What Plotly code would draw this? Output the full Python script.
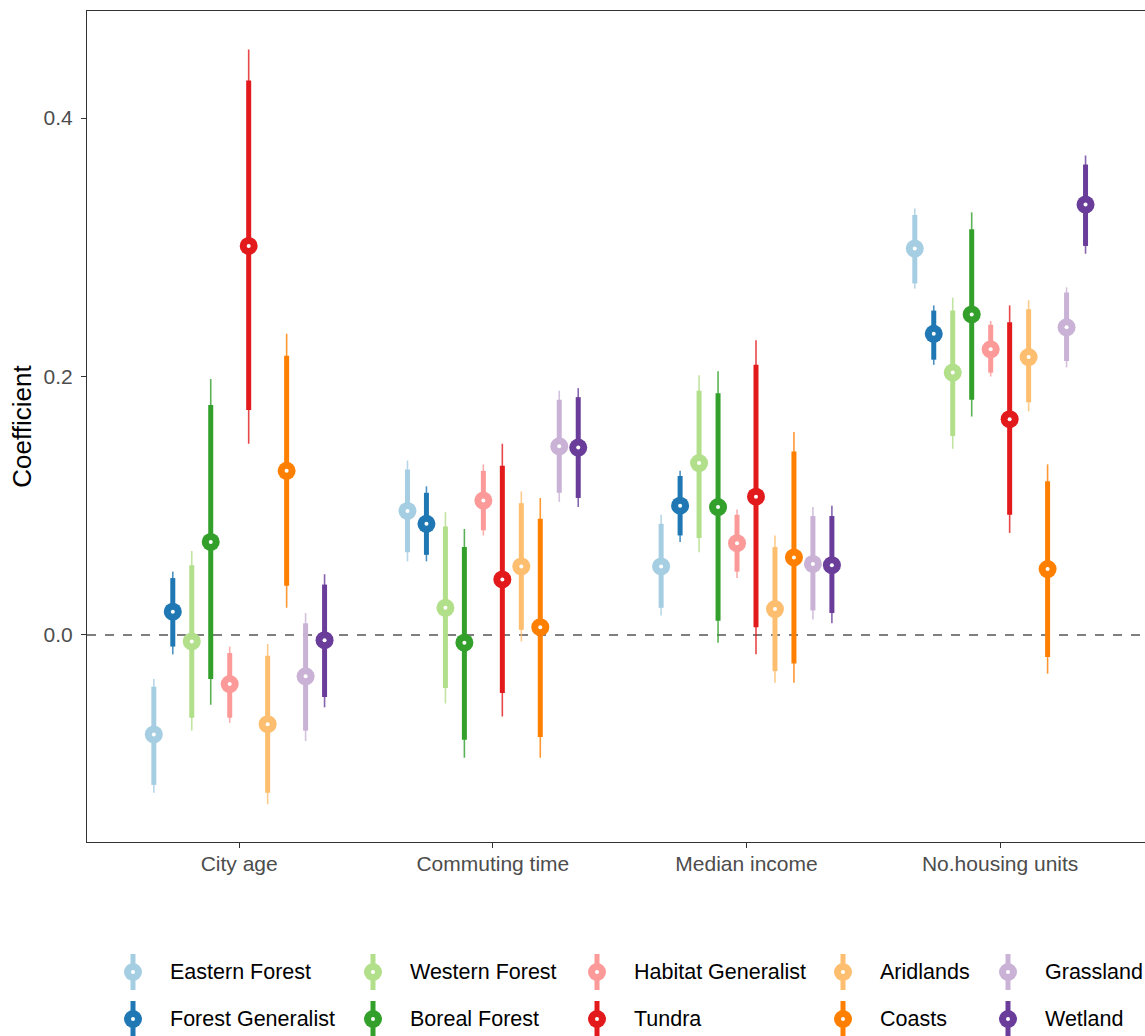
import plotly.graph_objects as go

# Predictors (x categories)
categories = ["City age", "Commuting time", "Median income", "No.housing units"]

# Habitat groups, in dodge / legend order
groups = ["Eastern Forest", "Forest Generalist", "Western Forest", "Boreal Forest",
          "Habitat Generalist", "Tundra", "Aridlands", "Coasts", "Grassland", "Wetland"]
colors = ["#A6CEE3", "#1F78B4", "#B2DF8A", "#33A02C", "#FB9A99",
          "#E31A1C", "#FDBF6F", "#FF7F00", "#CAB2D6", "#6A3D9A"]

# Point estimates: one list per group, values for each predictor
est = {
    "Eastern Forest":     [-0.077, 0.096, 0.053, 0.299],
    "Forest Generalist":  [0.018, 0.086, 0.100, 0.233],
    "Western Forest":     [-0.005, 0.021, 0.133, 0.203],
    "Boreal Forest":      [0.072, -0.006, 0.099, 0.248],
    "Habitat Generalist": [-0.038, 0.104, 0.071, 0.221],
    "Tundra":             [0.301, 0.043, 0.107, 0.167],
    "Aridlands":          [-0.069, 0.053, 0.020, 0.215],
    "Coasts":             [0.127, 0.006, 0.060, 0.051],
    "Grassland":          [-0.032, 0.146, 0.055, 0.238],
    "Wetland":            [-0.004, 0.145, 0.054, 0.333],
}
# Inner interval (thick segment): lower / upper
inner_lo = {
    "Eastern Forest":     [-0.116, 0.064, 0.021, 0.272],
    "Forest Generalist":  [-0.009, 0.062, 0.077, 0.213],
    "Western Forest":     [-0.064, -0.041, 0.075, 0.154],
    "Boreal Forest":      [-0.034, -0.081, 0.011, 0.182],
    "Habitat Generalist": [-0.064, 0.081, 0.049, 0.203],
    "Tundra":             [0.174, -0.045, 0.006, 0.093],
    "Aridlands":          [-0.122, 0.004, -0.028, 0.180],
    "Coasts":             [0.038, -0.079, -0.022, -0.017],
    "Grassland":          [-0.074, 0.110, 0.019, 0.212],
    "Wetland":            [-0.048, 0.106, 0.017, 0.301],
}
inner_hi = {
    "Eastern Forest":     [-0.040, 0.128, 0.086, 0.325],
    "Forest Generalist":  [0.044, 0.110, 0.123, 0.251],
    "Western Forest":     [0.054, 0.084, 0.189, 0.251],
    "Boreal Forest":      [0.178, 0.068, 0.187, 0.314],
    "Habitat Generalist": [-0.014, 0.127, 0.093, 0.240],
    "Tundra":             [0.429, 0.131, 0.209, 0.242],
    "Aridlands":          [-0.016, 0.102, 0.068, 0.252],
    "Coasts":             [0.216, 0.090, 0.142, 0.119],
    "Grassland":          [0.009, 0.182, 0.092, 0.265],
    "Wetland":            [0.039, 0.184, 0.092, 0.364],
}
# Outer interval (thin segment): lower / upper
outer_lo = {
    "Eastern Forest":     [-0.122, 0.057, 0.015, 0.268],
    "Forest Generalist":  [-0.015, 0.057, 0.072, 0.209],
    "Western Forest":     [-0.074, -0.053, 0.064, 0.144],
    "Boreal Forest":      [-0.054, -0.095, -0.006, 0.169],
    "Habitat Generalist": [-0.068, 0.077, 0.044, 0.200],
    "Tundra":             [0.148, -0.063, -0.015, 0.079],
    "Aridlands":          [-0.131, -0.005, -0.037, 0.173],
    "Coasts":             [0.021, -0.095, -0.037, -0.030],
    "Grassland":          [-0.082, 0.103, 0.012, 0.207],
    "Wetland":            [-0.056, 0.099, 0.009, 0.295],
}
outer_hi = {
    "Eastern Forest":     [-0.034, 0.135, 0.093, 0.330],
    "Forest Generalist":  [0.049, 0.115, 0.127, 0.255],
    "Western Forest":     [0.065, 0.095, 0.201, 0.261],
    "Boreal Forest":      [0.198, 0.082, 0.204, 0.327],
    "Habitat Generalist": [-0.009, 0.132, 0.097, 0.243],
    "Tundra":             [0.453, 0.148, 0.228, 0.255],
    "Aridlands":          [-0.007, 0.111, 0.077, 0.259],
    "Coasts":             [0.233, 0.106, 0.157, 0.132],
    "Grassland":          [0.017, 0.189, 0.099, 0.269],
    "Wetland":            [0.047, 0.191, 0.100, 0.371],
}

DODGE = 0.0748
n = len(groups)
FONT = "Liberation Sans, Arial, sans-serif"

# Figure geometry (pixels)
FIG_W, FIG_H = 1145, 1036
M_L, M_R, M_T, M_B = 87, 0, 11, 194
PLOT_W = FIG_W - M_L - M_R
PLOT_H = FIG_H - M_T - M_B


def px_to_paper_x(px):
    return (px - M_L) / PLOT_W


def px_to_paper_y(py):
    return (FIG_H - M_B - py) / PLOT_H


fig = go.Figure()

# zero reference line
fig.add_shape(type="line", xref="paper", x0=0, x1=1, yref="y", y0=0, y1=0,
              line=dict(color="#7f7f7f", width=2, dash="dash"), layer="below")

for k, g in enumerate(groups):
    off = (k - (n - 1) / 2) * DODGE
    xs = [i + 1 + off for i in range(len(categories))]
    c = colors[k]

    # thin (outer) intervals
    tx, ty = [], []
    for i, x in enumerate(xs):
        tx += [x, x, None]
        ty += [outer_lo[g][i], outer_hi[g][i], None]
    fig.add_trace(go.Scatter(x=tx, y=ty, mode="lines", showlegend=False,
                             line=dict(color=c, width=1.6), opacity=0.8,
                             hoverinfo="skip"))
    # thick (inner) intervals
    tx, ty = [], []
    for i, x in enumerate(xs):
        tx += [x, x, None]
        ty += [inner_lo[g][i], inner_hi[g][i], None]
    fig.add_trace(go.Scatter(x=tx, y=ty, mode="lines", showlegend=False,
                             line=dict(color=c, width=5), hoverinfo="skip"))
    # point estimate with white centre
    fig.add_trace(go.Scatter(x=xs, y=est[g], mode="markers", name=g, showlegend=False,
                             marker=dict(symbol="circle", size=18, color=c,
                                         line=dict(width=0))))
    fig.add_trace(go.Scatter(x=xs, y=est[g], mode="markers", showlegend=False,
                             marker=dict(symbol="circle", size=4, color="white",
                                         line=dict(width=0)), hoverinfo="skip"))

# legend drawn as vertical interval keys in a 2-row, 5-column grid (column-major)
col_key_x = [133, 373, 597, 843, 1008]
row_y = [972, 1019]
for k, g in enumerate(groups):
    col, row = divmod(k, 2)
    cx, cy = col_key_x[col], row_y[row]
    c = colors[k]
    fig.add_shape(type="line", xref="paper", yref="paper",
                  x0=px_to_paper_x(cx), x1=px_to_paper_x(cx),
                  y0=px_to_paper_y(cy + 18), y1=px_to_paper_y(cy - 18),
                  line=dict(color=c, width=5))
    fig.add_shape(type="circle", xref="paper", yref="paper",
                  x0=px_to_paper_x(cx - 9), x1=px_to_paper_x(cx + 9),
                  y0=px_to_paper_y(cy + 9), y1=px_to_paper_y(cy - 9),
                  fillcolor=c, line=dict(width=0))
    fig.add_shape(type="circle", xref="paper", yref="paper",
                  x0=px_to_paper_x(cx - 2), x1=px_to_paper_x(cx + 2),
                  y0=px_to_paper_y(cy + 2), y1=px_to_paper_y(cy - 2),
                  fillcolor="white", line=dict(width=0))
    fig.add_annotation(x=px_to_paper_x(cx + 35), y=px_to_paper_y(cy),
                       xref="paper", yref="paper",
                       text=g, showarrow=False, xanchor="left", yanchor="middle",
                       font=dict(size=21.5, color="black", family=FONT))

fig.update_layout(
    width=FIG_W, height=FIG_H,
    margin=dict(l=M_L, r=M_R, t=M_T, b=M_B),
    plot_bgcolor="white", paper_bgcolor="white",
    font=dict(family=FONT),
    xaxis=dict(range=[0.4, 4.571], tickmode="array", tickvals=[1, 2, 3, 4],
               ticktext=categories, showgrid=False, zeroline=False,
               showline=True, mirror=True, linecolor="#333333", linewidth=1.2,
               ticks="outside", ticklen=5, tickcolor="#333333", tickwidth=1.2,
               ticklabelstandoff=-2,
               tickfont=dict(size=21, color="#4d4d4d")),
    yaxis=dict(range=[-0.1602, 0.4828], tickmode="array", tickvals=[0.0, 0.2, 0.4],
               ticktext=["0.0", "0.2", "0.4"], showgrid=False, zeroline=False,
               showline=True, linecolor="#333333", linewidth=1.2,
               ticks="outside", ticklen=5, tickcolor="#333333", tickwidth=1.2,
               ticklabelstandoff=4,
               tickfont=dict(size=21, color="#4d4d4d"),
               title=dict(text="Coefficient", font=dict(size=26, color="black"), standoff=4)),
)

fig.write_html("out.html")
